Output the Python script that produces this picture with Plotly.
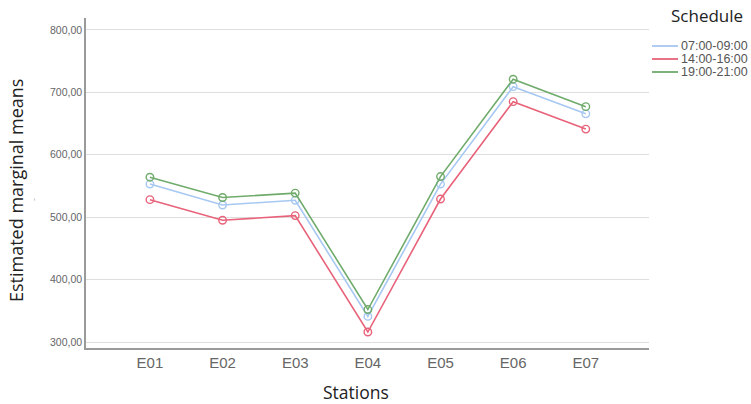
import plotly.graph_objects as go

stations = ["E01", "E02", "E03", "E04", "E05", "E06", "E07"]
s_0709 = [553, 519.5, 527, 341, 553, 709, 665.5]
s_1416 = [528, 495, 502.5, 316, 529, 685, 641]
s_1921 = [564, 531.5, 538.5, 352, 565, 721, 677]
y_ticks = [300, 400, 500, 600, 700, 800]
y_tick_labels = ["300,00", "400,00", "500,00", "600,00", "700,00", "800,00"]
schedules = ["07:00-09:00", "14:00-16:00", "19:00-21:00"]
colors = ["#a6c8f2", "#e8627a", "#6fab6b"]

L, R, T, B, W, H = 86, 102, 18, 56, 751, 404
PW, PH = W - L - R, H - T - B


def px(x):
    return (x - L) / PW


def py(y):
    return (H - B - y) / PH


fig = go.Figure()
for name, vals, col in zip(schedules, [s_0709, s_1416, s_1921], colors):
    fig.add_trace(go.Scatter(
        x=stations, y=vals, name=name, mode="lines+markers",
        line=dict(color=col, width=1.6),
        marker=dict(symbol="circle-open", size=7.5, color=col, line=dict(width=1.4)),
        showlegend=False,
    ))

shapes = []
annotations = []
for i, (name, col) in enumerate(zip(schedules, colors)):
    yy = py(46 + 13 * i)
    shapes.append(dict(type="line", xref="paper", yref="paper", x0=px(652), x1=px(678),
                       y0=yy, y1=yy, line=dict(color=col, width=1.8)))
    annotations.append(dict(text=name, xref="paper", yref="paper", x=px(679), y=yy,
                            xanchor="left", yanchor="middle", showarrow=False,
                            font=dict(family="Liberation Sans, Arial", size=12.5, color="#555")))

annotations += [
    dict(text="Schedule", x=px(707), xref="paper", xanchor="center", y=py(16), yref="paper",
         yanchor="middle", showarrow=False,
         font=dict(family="Open Sans, Calibri", size=17, color="#222")),
    dict(text="Estimated marginal means", x=px(16), xref="paper", xanchor="center",
         y=py(191), yref="paper", yanchor="middle", textangle=-90, showarrow=False,
         font=dict(family="Open Sans, Calibri", size=18, color="#222")),
    dict(text="Stations", x=px(356), xref="paper", xanchor="center",
         y=py(392), yref="paper", yanchor="middle", showarrow=False,
         font=dict(family="Open Sans, Calibri", size=17.5, color="#222")),
    dict(text="-", x=px(33), xref="paper", xanchor="center", y=py(200), yref="paper",
         yanchor="middle", showarrow=False,
         textangle=-90, font=dict(size=9, color="#aaa")),
]

fig.update_layout(
    width=W, height=H,
    margin=dict(l=L, r=R, t=T, b=B),
    paper_bgcolor="white", plot_bgcolor="white",
    showlegend=False,
    shapes=shapes,
    annotations=annotations,
    xaxis=dict(
        type="category", range=[-0.88, 6.87], automargin=False,
        showgrid=False, showline=True, linecolor="#9a9a9a", linewidth=1.5,
        ticks="", ticklen=0,
        tickfont=dict(family="Liberation Sans, Arial", size=15, color="#666"),
    ),
    yaxis=dict(
        range=[290.4, 819], tickvals=y_ticks, ticktext=y_tick_labels, automargin=False,
        showgrid=True, gridcolor="#dedede", gridwidth=1.3,
        showline=True, linecolor="#9a9a9a", linewidth=1.5,
        zeroline=False, ticks="",
        tickfont=dict(family="Liberation Sans, Arial", size=10.5, color="#666"),
    ),
)

fig.write_html("out.html", config={"displayModeBar": False},
               post_script="document.body.style.margin='0';")
